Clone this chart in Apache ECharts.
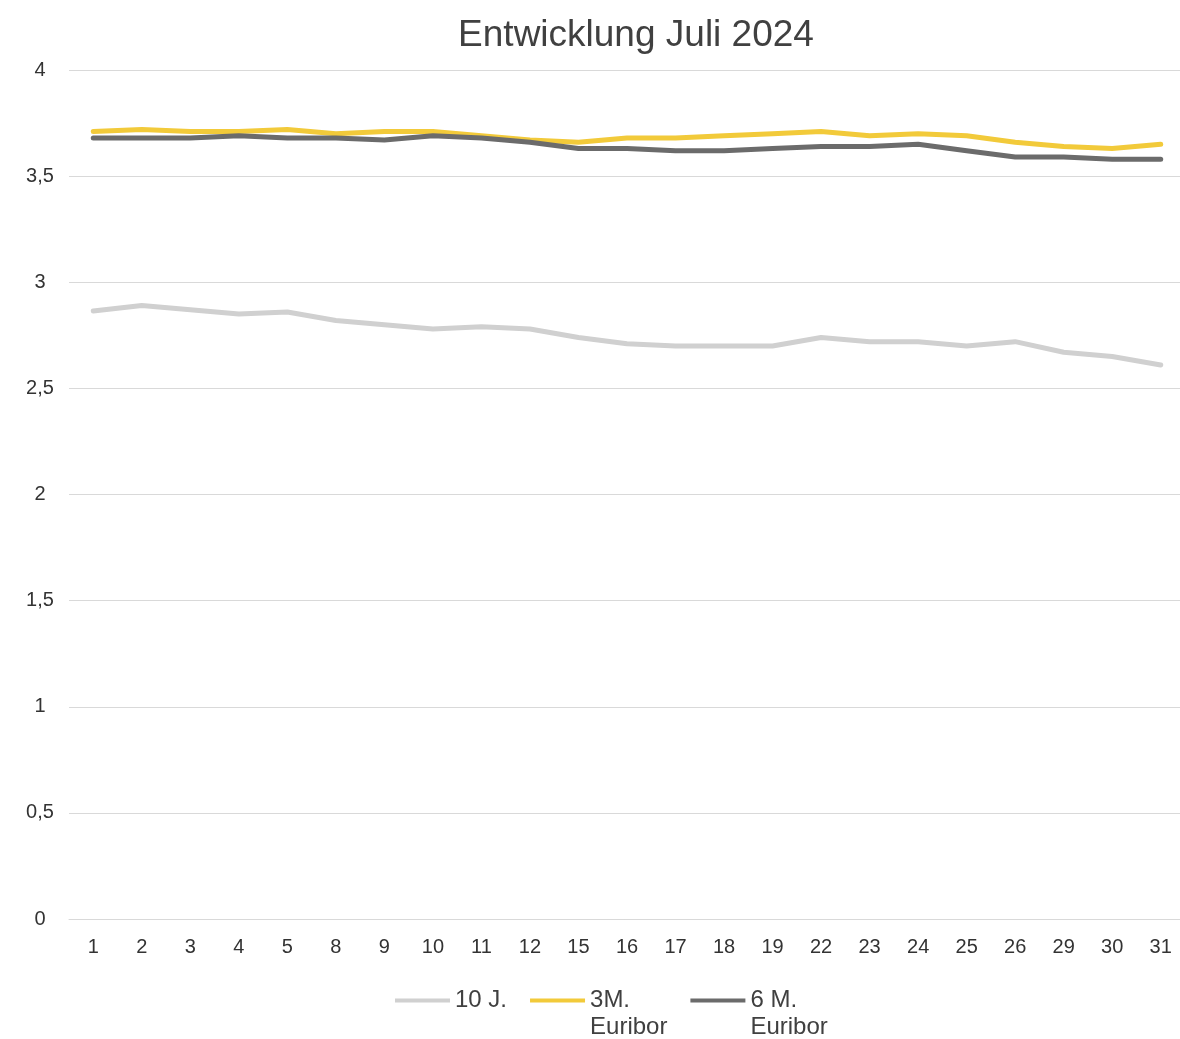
<!DOCTYPE html>
<html>
<head>
<meta charset="utf-8">
<script src="https://cdn.jsdelivr.net/npm/echarts@6/dist/echarts.min.js"></script>
<style>
  html, body { margin: 0; padding: 0; background: #fff; }
  #chart { width: 1180px; height: 1039px; }
</style>
</head>
<body>
<div id="chart"></div>
<script>
// Handelstage im Juli 2024
const days = ['1','2','3','4','5','8','9','10','11','12','15','16','17','18','19','22','23','24','25','26','29','30','31'];

// Zinssätze in %
const zehnJahre = [2.865, 2.89, 2.87, 2.85, 2.86, 2.82, 2.80, 2.78, 2.79, 2.78, 2.74, 2.71, 2.70, 2.70, 2.70, 2.74, 2.72, 2.72, 2.70, 2.72, 2.67, 2.65, 2.61];
const euribor3M = [3.71, 3.72, 3.71, 3.71, 3.72, 3.70, 3.71, 3.71, 3.69, 3.67, 3.66, 3.68, 3.68, 3.69, 3.70, 3.71, 3.69, 3.70, 3.69, 3.66, 3.64, 3.63, 3.65];
const euribor6M = [3.68, 3.68, 3.68, 3.69, 3.68, 3.68, 3.67, 3.69, 3.68, 3.66, 3.63, 3.63, 3.62, 3.62, 3.63, 3.64, 3.64, 3.65, 3.62, 3.59, 3.59, 3.58, 3.58];

const seriesNames = ['10 J.', '3M.\nEuribor', '6 M.\nEuribor'];
const seriesColors = ['#d0d0d0', '#f2ca3a', '#6b6b6b'];
const yTicks = [0, 0.5, 1, 1.5, 2, 2.5, 3, 3.5, 4];

const font = '"Liberation Sans", Arial, sans-serif';
const chart = echarts.init(document.getElementById('chart'));

const mkLine = (name, data, color) => ({
  name: name,
  type: 'line',
  data: data,
  symbol: 'none',
  lineStyle: { color: color, width: 5, cap: 'round', join: 'round' },
  itemStyle: { color: color },
  z: 3
});

chart.setOption({
  animation: false,
  backgroundColor: '#ffffff',
  title: {
    text: 'Entwicklung Juli 2024',
    left: 631,
    top: 12,
    textAlign: 'center',
    textStyle: { fontFamily: font, fontSize: 37, fontWeight: 'normal', color: '#404040' }
  },
  legend: {
    left: 395,
    top: 960,
    padding: 0,
    itemWidth: 55,
    itemHeight: 4,
    itemGap: 23,
    icon: 'rect',
    // a blank leading line keeps the first line of two-line names level with the icon
    formatter: name => (name.indexOf('\n') >= 0 ? ' \n' + name : name),
    textStyle: { fontFamily: font, fontSize: 24, color: '#404040', lineHeight: 27 },
    data: seriesNames
  },
  grid: { left: 69, top: 70, width: 1116, height: 849, outerBoundsMode: 'none' },
  xAxis: {
    type: 'category',
    data: days,
    boundaryGap: true,
    axisLine: { show: true, lineStyle: { color: '#d9d9d9', width: 1 } },
    axisTick: { show: false },
    axisLabel: { fontFamily: font, fontSize: 20, color: '#333333', margin: 18 }
  },
  yAxis: {
    type: 'value',
    min: yTicks[0],
    max: yTicks[yTicks.length - 1],
    interval: 0.5,
    axisLine: { show: false },
    axisTick: { show: false },
    splitLine: { lineStyle: { color: '#d9d9d9', width: 1 } },
    axisLabel: {
      fontFamily: font, fontSize: 20, color: '#333333', margin: 29, align: 'center',
      formatter: v => String(v).replace('.', ',')
    }
  },
  series: [
    mkLine(seriesNames[0], zehnJahre, seriesColors[0]),
    mkLine(seriesNames[1], euribor3M, seriesColors[1]),
    mkLine(seriesNames[2], euribor6M, seriesColors[2])
  ]
});
</script>
</body>
</html>
